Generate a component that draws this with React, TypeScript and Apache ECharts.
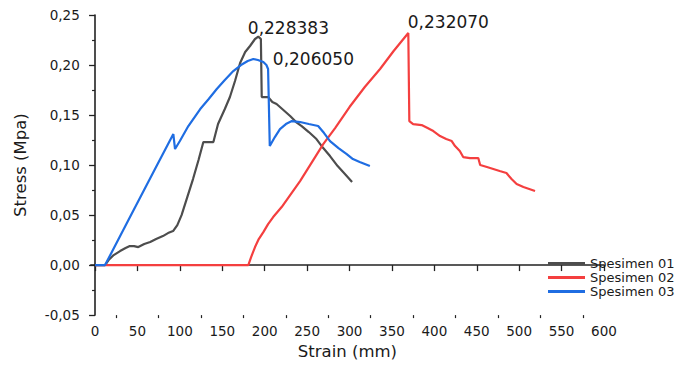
import React, { useEffect, useRef } from "react";
import * as echarts from "echarts";

const seriesNames = ["Spesimen 01", "Spesimen 02", "Spesimen 03"];
const seriesColors = ["#4d4d4d", "#f43f3f", "#1f6de2"];

// Spesimen 01: [strain (mm), stress (MPa)]
const spesimen01: [number, number][] = [
  [0, 0], [11.8, 0], [16, 0.005], [22, 0.010], [29.5, 0.014], [36, 0.017], [41, 0.019],
  [46, 0.019], [51, 0.018], [58, 0.021], [65, 0.023], [72, 0.026], [80, 0.029], [86, 0.032],
  [92, 0.034], [97, 0.040], [102, 0.050], [108, 0.066], [115.5, 0.086], [122, 0.105],
  [127.7, 0.123], [133, 0.123], [139.5, 0.123], [145, 0.141], [153, 0.156], [159, 0.168],
  [165, 0.184], [171, 0.202], [177, 0.213], [182.7, 0.219], [188.6, 0.226], [192.5, 0.228383],
  [195.5, 0.226], [196.5, 0.168], [204, 0.168], [209, 0.163], [214, 0.161], [222, 0.155],
  [230, 0.149], [237, 0.143], [243.6, 0.139], [252, 0.133], [261, 0.126], [269, 0.117],
  [277, 0.109], [286, 0.099], [296.7, 0.089], [303, 0.083],
];

// Spesimen 02
const spesimen02: [number, number][] = [
  [0, 0], [180.7, 0], [184, 0.008], [188.6, 0.018], [193, 0.026], [198.4, 0.033], [204, 0.041],
  [210, 0.048], [218, 0.056], [220, 0.058], [241.7, 0.084], [255, 0.102], [269, 0.121],
  [283, 0.137], [300, 0.158], [318, 0.178], [336, 0.196], [352, 0.214], [369.3, 0.23207],
  [370.5, 0.144], [375, 0.141], [385, 0.140], [392, 0.137], [398.8, 0.134], [406.7, 0.129],
  [414, 0.126], [420.5, 0.124], [424.4, 0.119], [430, 0.114], [434, 0.108], [442, 0.107],
  [451.8, 0.107], [454, 0.100], [462, 0.098], [469.5, 0.096], [477, 0.094], [485, 0.092],
  [491, 0.086], [497, 0.081], [505, 0.078], [518.7, 0.074],
];

// Spesimen 03
const spesimen03: [number, number][] = [
  [0, 0], [11.8, 0], [40, 0.046], [70.7, 0.096], [92.3, 0.131], [94.3, 0.116], [100, 0.124],
  [110, 0.139], [124, 0.156], [134, 0.166], [143.5, 0.176], [153, 0.185], [163, 0.194],
  [172, 0.200], [180, 0.204], [186.6, 0.20605], [192, 0.205], [198.4, 0.203], [202, 0.200],
  [204, 0.196], [206, 0.119], [212, 0.128], [218, 0.136], [225, 0.141], [232, 0.144],
  [241.7, 0.143], [252, 0.141], [263, 0.139], [270, 0.132], [277, 0.124], [287, 0.117],
  [296.7, 0.111], [304, 0.106], [312, 0.103], [324, 0.099],
];

const xMajorTicks = [0, 50, 100, 150, 200, 250, 300, 350, 400, 450, 500, 550, 600];
const xMinorTicks = [25, 75, 125, 175, 225, 275, 325, 375, 425, 475, 525, 575];

const peakLabelOffsets: [number, number][] = [[-10, -8], [0, -10], [20, 1]];

const FONT = "DejaVu Sans";

export default function App() {
  const ref = useRef<HTMLDivElement>(null);
  useEffect(() => {
    if (!ref.current) return;
    const chart = echarts.init(ref.current, undefined, { renderer: "svg" });
    const datasets = [spesimen01, spesimen02, spesimen03];
    const fmt = (v: number) => v.toFixed(6).replace(".", ",");
    const axisCommon = {
      axisLine: { show: true, lineStyle: { color: "#222222", width: 1.6 } },
      splitLine: { show: false },
    };
    chart.setOption({
      animation: false,
      textStyle: { fontFamily: FONT },
      grid: { left: 90.8, right: 78, top: 15, bottom: 49, containLabel: false },
      legend: {
        orient: "vertical",
        left: 548,
        top: 257,
        padding: 0,
        itemGap: 1,
        icon: "rect",
        itemWidth: 37,
        itemHeight: 3,
        textStyle: { fontFamily: FONT, fontSize: 13, color: "#1a1a1a", lineHeight: 13 },
        data: seriesNames,
      },
      xAxis: [
        {
          type: "value",
          min: -5,
          max: 600,
          position: "bottom",
          name: "Strain (mm)",
          nameLocation: "middle",
          nameGap: 22,
          nameTextStyle: { fontFamily: FONT, fontSize: 16.5, color: "#1a1a1a" },
          ...axisCommon,
          axisTick: { show: true, length: 6, customValues: xMajorTicks, lineStyle: { color: "#222222", width: 1.3 } },
          axisLabel: { customValues: xMajorTicks, fontFamily: FONT, fontSize: 13.5, color: "#1a1a1a", margin: 9 },
        },
        {
          type: "value",
          min: -5,
          max: 600,
          position: "bottom",
          axisLine: { show: false },
          splitLine: { show: false },
          axisTick: { show: true, length: 3, customValues: xMinorTicks, lineStyle: { color: "#222222", width: 1.2 } },
          axisLabel: { show: false },
        },
      ],
      yAxis: {
        type: "value",
        min: -0.05,
        max: 0.25,
        interval: 0.05,
        name: "Stress (Mpa)",
        nameLocation: "middle",
        nameGap: 62,
        nameTextStyle: { fontFamily: FONT, fontSize: 16.5, color: "#1a1a1a" },
        ...axisCommon,
        axisTick: { show: true, length: 6, lineStyle: { color: "#222222", width: 1.3 } },
        minorTick: { show: true, splitNumber: 2, length: 3, lineStyle: { color: "#222222", width: 1.2 } },
        axisLabel: {
          fontFamily: FONT,
          fontSize: 13.5,
          color: "#1a1a1a",
          margin: 11,
          formatter: (v: number) => v.toFixed(2).replace(".", ","),
        },
      },
      series: datasets.map((d, i) => ({
        name: seriesNames[i],
        type: "line",
        data: d,
        showSymbol: false,
        symbol: "none",
        lineStyle: { color: seriesColors[i], width: 2.2 },
        itemStyle: { color: seriesColors[i] },
        z: i === 2 ? 4 : 3,
        markPoint: {
          symbol: "circle",
          symbolSize: 1,
          itemStyle: { color: "rgba(0,0,0,0)" },
          label: {
            show: true,
            position: peakLabelOffsets[i],
            align: "left",
            verticalAlign: "middle",
            fontFamily: FONT,
            fontSize: 17,
            color: "#1a1a1a",
            formatter: (p: any) => fmt(Array.isArray(p.value) ? p.value[1] : p.value),
          },
          data: [{ type: "max", valueDim: "y" }],
        },
      })),
    });
    return () => chart.dispose();
  }, []);
  return <div ref={ref} style={{ width: 682, height: 365, position: "absolute", left: 0, top: 0 }} />;
}
